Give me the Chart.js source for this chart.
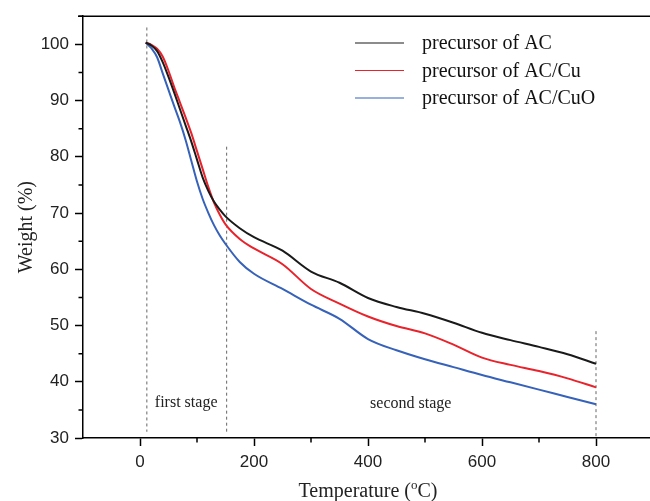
<!DOCTYPE html>
<html>
<head>
<meta charset="utf-8">
<script src="https://cdn.jsdelivr.net/npm/chart.js@4.4.0/dist/chart.umd.min.js"></script>
<style>
  html, body { margin: 0; padding: 0; background: #fff; overflow: hidden; }
  #wrap { width: 659px; height: 501px; position: relative; }
</style>
</head>
<body>
<div id="wrap"><canvas id="tgaChart"></canvas></div>
<script>
// TGA curves
const temps = [10, 20, 30, 40, 50, 60, 70, 80, 90, 100, 110, 120, 130, 140, 150, 175, 200, 250, 300, 350, 400, 450, 500, 550, 600, 650, 700, 750, 800];
const weightAC = [100.3, 99.8, 98.8, 96.8, 94.2, 91.4, 88.5, 85.6, 82.7, 79.5, 76.3, 73.9, 72.0, 70.6, 69.4, 67.3, 65.7, 63.3, 59.6, 57.6, 54.9, 53.3, 52.1, 50.5, 48.7, 47.4, 46.2, 44.9, 43.2];
const weightACCu = [100.3, 99.9, 99.2, 97.8, 95.3, 92.4, 89.7, 87.0, 84.2, 81.0, 77.8, 74.6, 71.8, 69.7, 68.0, 65.4, 63.7, 60.9, 56.5, 53.9, 51.6, 49.9, 48.6, 46.6, 44.3, 43.0, 41.9, 40.6, 39.0];
const weightACCuO = [100.3, 99.3, 97.7, 94.8, 91.9, 89.0, 86.2, 83.0, 79.3, 75.6, 72.5, 70.0, 67.8, 66.0, 64.5, 61.3, 59.2, 56.5, 53.7, 51.2, 47.6, 45.6, 44.0, 42.6, 41.2, 39.9, 38.6, 37.3, 36.0];

const seriesNames = ['precursor of AC', 'precursor of AC/Cu', 'precursor of AC/CuO'];
const seriesColors = ['#1a1a1a', '#e8232b', '#3762b9'];

// dashed stage boundaries
const dashX = [12, 152, 800];
const dashTop = [103, 81.8, 49];
const dashBottom = [31.1, 31.1, 30];

const stageText = ['first stage', 'second stage'];
const stageX = [81, 475];
const stageY = [36.2, 36.0];

const xMinor = [100, 300, 500, 700];
const yMinor = [35, 45, 55, 65, 75, 85, 95, 105];

const serif = '"Liberation Serif", "Times New Roman", serif';
const sans = '"Liberation Sans", Arial, sans-serif';

function toPoints(ys) {
    return temps.map((t, i) => ({x: t, y: ys[i]}));
}

let datasets = [weightAC, weightACCu, weightACCuO].map((ys, i) => ({
    label: seriesNames[i],
    data: toPoints(ys),
    borderColor: seriesColors[i],
    borderWidth: 2,
    pointRadius: 0,
    cubicInterpolationMode: 'monotone',
    fill: false
}));

dashX.forEach((dx, i) => {
    datasets.push({
        label: 'dash' + i,
        data: [{x: dx, y: dashTop[i]}, {x: dx, y: dashBottom[i]}],
        borderColor: '#666',
        borderWidth: 1,
        borderDash: [3, 3],
        pointRadius: 0,
        fill: false
    });
});

const overlay = {
    id: 'overlay',
    afterDraw(chart) {
        const {ctx, chartArea: a, scales: {x, y}} = chart;
        ctx.save();

        // top frame line
        ctx.strokeStyle = '#000';
        ctx.lineWidth = 1.5;
        ctx.beginPath();
        ctx.moveTo(a.left - 5, a.top);
        ctx.lineTo(a.right, a.top);
        ctx.stroke();

        // short minor ticks
        ctx.beginPath();
        xMinor.forEach(v => {
            const px = x.getPixelForValue(v);
            ctx.moveTo(px, a.bottom);
            ctx.lineTo(px, a.bottom + 4.5);
        });
        yMinor.forEach(v => {
            const py = y.getPixelForValue(v);
            ctx.moveTo(a.left, py);
            ctx.lineTo(a.left - 4.5, py);
        });
        ctx.stroke();

        // stage labels
        ctx.fillStyle = '#222';
        ctx.font = '16px ' + serif;
        ctx.textAlign = 'center';
        ctx.textBaseline = 'middle';
        stageText.forEach((s, i) => {
            ctx.fillText(s, x.getPixelForValue(stageX[i]), y.getPixelForValue(stageY[i]));
        });

        // legend
        ctx.font = '20px ' + serif;
        ctx.textAlign = 'left';
        seriesNames.forEach((name, i) => {
            const ly = 43 + i * 27.5;
            ctx.strokeStyle = seriesColors[i];
            ctx.lineWidth = 1.2;
            ctx.beginPath();
            ctx.moveTo(355, ly);
            ctx.lineTo(404, ly);
            ctx.stroke();
            ctx.fillStyle = '#111';
            ctx.fillText(name, 422, ly + 1);
        });

        // x title with superscript o
        const cx = (a.left + a.right) / 2;
        const ty = 490;
        const p1 = 'Temperature (', p2 = 'o', p3 = 'C)';
        ctx.font = '20px ' + serif;
        const w1 = ctx.measureText(p1).width, w3 = ctx.measureText(p3).width;
        ctx.font = '13px ' + serif;
        const w2 = ctx.measureText(p2).width;
        let sx = cx - (w1 + w2 + w3) / 2;
        ctx.fillStyle = '#222';
        ctx.textBaseline = 'alphabetic';
        ctx.font = '20px ' + serif;
        ctx.fillText(p1, sx, ty + 7);
        ctx.font = '13px ' + serif;
        ctx.fillText(p2, sx + w1, ty - 1);
        ctx.font = '20px ' + serif;
        ctx.fillText(p3, sx + w1 + w2, ty + 7);

        ctx.restore();
    }
};

const tickColor = c => (c.tick && Math.round(c.tick.value) % (c.scale.axis === 'x' ? 200 : 10) === 0) ? '#000' : 'rgba(0,0,0,0)';

new Chart(document.getElementById('tgaChart').getContext('2d'), {
    type: 'line',
    data: {datasets},
    plugins: [overlay],
    options: {
        responsive: true,
        maintainAspectRatio: false,
        animation: false,
        layout: {padding: {top: 14, right: 0, bottom: 0, left: 0}},
        plugins: {
            legend: {display: false},
            tooltip: {enabled: false}
        },
        scales: {
            x: {
                type: 'linear',
                min: -100,
                max: 900,
                afterFit: s => { s.height = 63; },
                ticks: {
                    stepSize: 100,
                    padding: 6,
                    color: '#222',
                    font: {family: sans, size: 17},
                    maxRotation: 0,
                    autoSkip: false,
                    callback: v => (v % 200 === 0 && v >= 0 && v <= 800) ? v : ''
                },
                grid: {drawOnChartArea: false, tickLength: 8, tickWidth: 1.5, tickColor},
                border: {color: '#000', width: 1.5}
            },
            y: {
                type: 'linear',
                min: 30,
                max: 105,
                afterFit: s => { s.width = 83; },
                ticks: {
                    stepSize: 5,
                    padding: 6,
                    color: '#222',
                    font: {family: sans, size: 17},
                    autoSkip: false,
                    callback: v => (v % 10 === 0) ? v : ''
                },
                title: {
                    display: true,
                    text: 'Weight (%)',
                    color: '#222',
                    font: {family: serif, size: 20},
                    padding: {top: 15, bottom: 0}
                },
                grid: {drawOnChartArea: false, tickLength: 8, tickWidth: 1.5, tickColor},
                border: {color: '#000', width: 1.5}
            }
        }
    }
});
</script>
</body>
</html>
